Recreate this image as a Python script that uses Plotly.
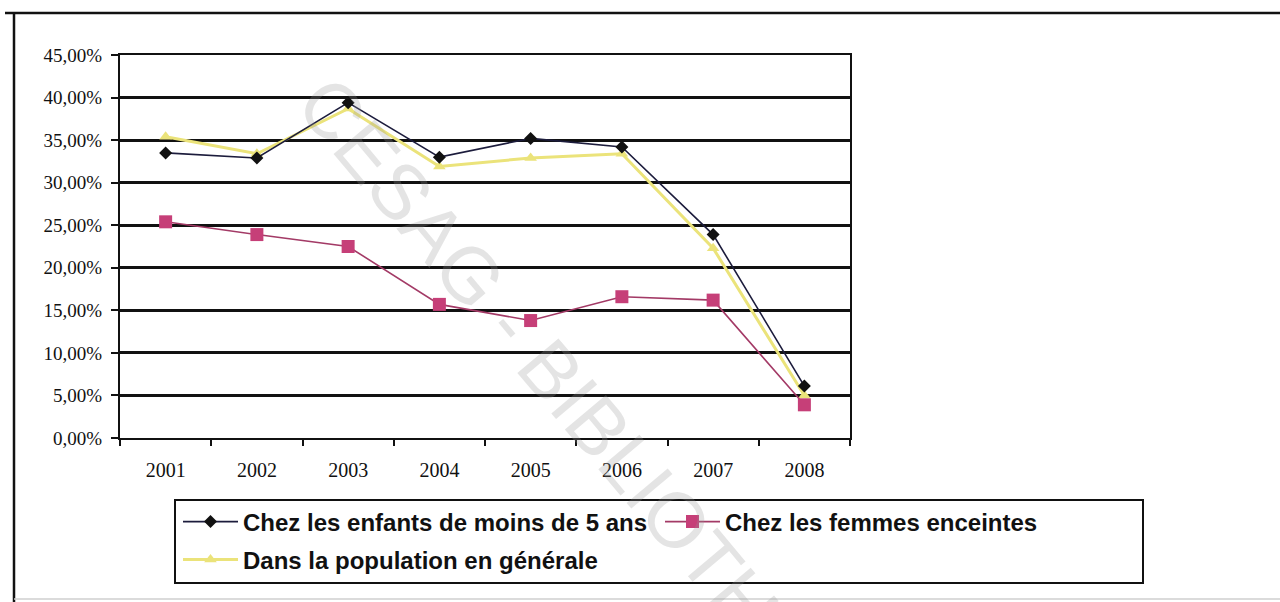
import plotly.graph_objects as go

# Prevalence by year
years = ["2001", "2002", "2003", "2004", "2005", "2006", "2007", "2008"]
enfants = [0.335, 0.329, 0.394, 0.330, 0.352, 0.342, 0.239, 0.061]
femmes = [0.254, 0.239, 0.225, 0.157, 0.138, 0.166, 0.162, 0.039]
population = [0.354, 0.334, 0.387, 0.319, 0.329, 0.334, 0.223, 0.050]

series_names = [
    "Chez les enfants de moins de 5 ans",
    "Chez les femmes enceintes",
    "Dans la population en générale",
]

y_tickvals = [0.0, 0.05, 0.10, 0.15, 0.20, 0.25, 0.30, 0.35, 0.40, 0.45]
y_ticktext = ["0,00%", "5,00%", "10,00%", "15,00%", "20,00%", "25,00%",
              "30,00%", "35,00%", "40,00%", "45,00%"]

W, H = 1280, 602
ML, MR, MT, MB = 120, 430, 55, 164
PW, PH = W - ML - MR, H - MT - MB


def px_x(px):
    return (px - ML) / PW


def px_y(py):
    return (H - MB - py) / PH


fig = go.Figure()

fig.add_trace(go.Scatter(
    x=years, y=population, name=series_names[2], mode="lines+markers",
    line=dict(color="#ebe37a", width=3),
    marker=dict(symbol="triangle-up", size=11, color="#ebe37a"),
    legend="legend3",
))
fig.add_trace(go.Scatter(
    x=years, y=femmes, name=series_names[1], mode="lines+markers",
    line=dict(color="#a33a66", width=1.6),
    marker=dict(symbol="square", size=13, color="#c63f78"),
    legend="legend2",
))
fig.add_trace(go.Scatter(
    x=years, y=enfants, name=series_names[0], mode="lines+markers",
    line=dict(color="#1c1c3c", width=1.6),
    marker=dict(symbol="diamond", size=10, color="#111111"),
    legend="legend",
))

# outer frame of the chart object
frame = dict(type="line", xref="paper", yref="paper", line=dict(color="#111", width=2.5))
fig.add_shape(**frame, x0=px_x(5), x1=px_x(1280), y0=px_y(13), y1=px_y(13))
fig.add_shape(**frame, x0=px_x(14), x1=px_x(14), y0=px_y(13), y1=px_y(602))
fig.add_shape(type="line", xref="paper", yref="paper",
              line=dict(color="#cfcfcf", width=1.5),
              x0=px_x(14), x1=px_x(1280), y0=px_y(599), y1=px_y(599))

# legend box
fig.add_shape(type="rect", xref="paper", yref="paper",
              x0=px_x(175), x1=px_x(1143), y0=px_y(500), y1=px_y(583),
              line=dict(color="#111", width=2), fillcolor="white", layer="below")

# library stamp
fig.add_annotation(
    text="CESAG - BIBLIOTHEQUE", xref="paper", yref="paper",
    x=px_x(609), y=px_y(440), xanchor="center", yanchor="middle",
    showarrow=False, textangle=50,
    font=dict(family="Liberation Sans", size=78, color="rgba(150,150,150,0.26)"),
)

legend_font = dict(family="Liberation Sans", size=24, color="#111", weight="bold")
legend_common = dict(
    orientation="v", xanchor="left", yanchor="middle",
    borderwidth=0, bgcolor="rgba(255,255,255,0)",
    font=legend_font, itemwidth=55,
)

fig.update_layout(
    width=W, height=H,
    margin=dict(l=ML, r=MR, t=MT, b=MB),
    paper_bgcolor="white", plot_bgcolor="white",
    showlegend=True,
    legend=dict(x=px_x(178), y=px_y(522), **legend_common),
    legend2=dict(x=px_x(660), y=px_y(522), **legend_common),
    legend3=dict(x=px_x(178), y=px_y(560), **legend_common),
    xaxis=dict(
        type="category", range=[-0.5, 7.5],
        showgrid=False, zeroline=False,
        showline=True, linecolor="#111", linewidth=2, mirror=True,
        ticks="outside", tickson="boundaries", ticklen=6, tickwidth=2, tickcolor="#111",
        tickfont=dict(family="Liberation Serif", size=20, color="#111"),
        ticklabelstandoff=13,
    ),
    yaxis=dict(
        range=[0, 0.45], tickvals=y_tickvals, ticktext=y_ticktext,
        showgrid=True, gridcolor="#111", gridwidth=2.5, zeroline=False,
        showline=True, linecolor="#111", linewidth=2, mirror=True,
        ticks="outside", ticklen=7, tickwidth=2, tickcolor="#111",
        tickfont=dict(family="Liberation Serif", size=19, color="#111"),
        ticklabelstandoff=5,
    ),
)

fig.write_html("out.html")
